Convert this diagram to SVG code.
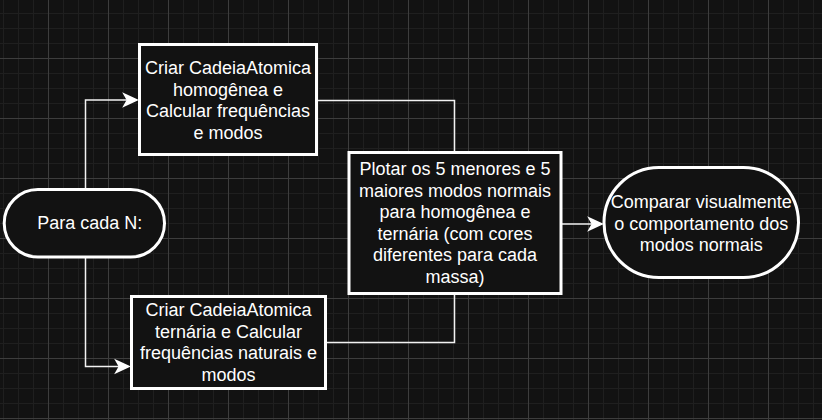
<svg xmlns="http://www.w3.org/2000/svg" width="822" height="420" viewBox="0 0 822 420">
<style>
.node{fill:#121212;stroke:#ffffff;stroke-width:3}
.lbl{fill:#ffffff;font-family:"Liberation Sans",Arial,Helvetica,sans-serif;font-size:18px;text-anchor:middle}
.edge{fill:none;stroke:#f2f2f2;stroke-width:1.5}
.ah{fill:#ffffff;stroke:#ffffff;stroke-width:1.5;stroke-linejoin:miter}
</style>
<defs>
<pattern id="grid" x="3" y="13" width="60" height="60" patternUnits="userSpaceOnUse">
<path d="M0.5 0V60M15.5 0V60M30.5 0V60M0 0.5H60M0 15.5H60M0 30.5H60" stroke="#1f1f1f" stroke-width="1" fill="none"/>
<path d="M45.5 0V60M0 45.5H60" stroke="#3d3d3d" stroke-width="1" fill="none"/>
</pattern>
</defs>
<rect width="822" height="420" fill="#121212"/>
<rect width="822" height="420" fill="url(#grid)"/>
<g id="connectors">
<path class="edge" d="M85.5 188V100H127"/>
<path class="ah" d="M137 100L124 94L127.5 100L124 106Z"/>
<path class="edge" d="M85.5 258V366.5H119"/>
<path class="ah" d="M129 366.5L116 360.5L119.5 366.5L116 372.5Z"/>
<path class="edge" d="M318 100.5H454.5V151"/>
<path class="edge" d="M327 342.5H454.5V295"/>
<path class="edge" d="M562 224H592"/>
<path class="ah" d="M602 224L589 218L592.5 224L589 230Z"/>
</g>
<g id="node-para-cada">
<rect class="node" x="4.2" y="189.5" width="160.3" height="67.5" rx="33.75"/>
<text class="lbl" x="89.7" y="229">Para cada N:</text>
</g>
<g id="node-homogenea">
<rect class="node" x="139.5" y="44.5" width="177" height="110"/>
<text class="lbl"><tspan x="228" y="74">Criar CadeiaAtomica</tspan><tspan x="228" y="95.6">homogênea e</tspan><tspan x="228" y="117.2">Calcular frequências</tspan><tspan x="228" y="138.8">e modos</tspan></text>
</g>
<g id="node-ternaria">
<rect class="node" x="131.5" y="296.5" width="194" height="92"/>
<text class="lbl"><tspan x="228.5" y="316">Criar CadeiaAtomica</tspan><tspan x="228.5" y="337.5">ternária e Calcular</tspan><tspan x="228.5" y="359">frequências naturais e</tspan><tspan x="228.5" y="380.5">modos</tspan></text>
</g>
<g id="node-plotar">
<rect class="node" x="349" y="152.5" width="212" height="141"/>
<text class="lbl"><tspan x="455" y="175">Plotar os 5 menores e 5</tspan><tspan x="455" y="196.6">maiores modos normais</tspan><tspan x="455" y="218.2">para homogênea e</tspan><tspan x="455" y="239.8">ternária (com cores</tspan><tspan x="455" y="261.4">diferentes para cada</tspan><tspan x="455" y="283">massa)</tspan></text>
</g>
<g id="node-comparar">
<rect class="node" x="604" y="167.5" width="194.5" height="110" rx="55"/>
<text class="lbl"><tspan x="701.3" y="208.3">Comparar visualmente</tspan><tspan x="701.3" y="229.6">o comportamento dos</tspan><tspan x="701.3" y="250.9">modos normais</tspan></text>
</g>
</svg>
